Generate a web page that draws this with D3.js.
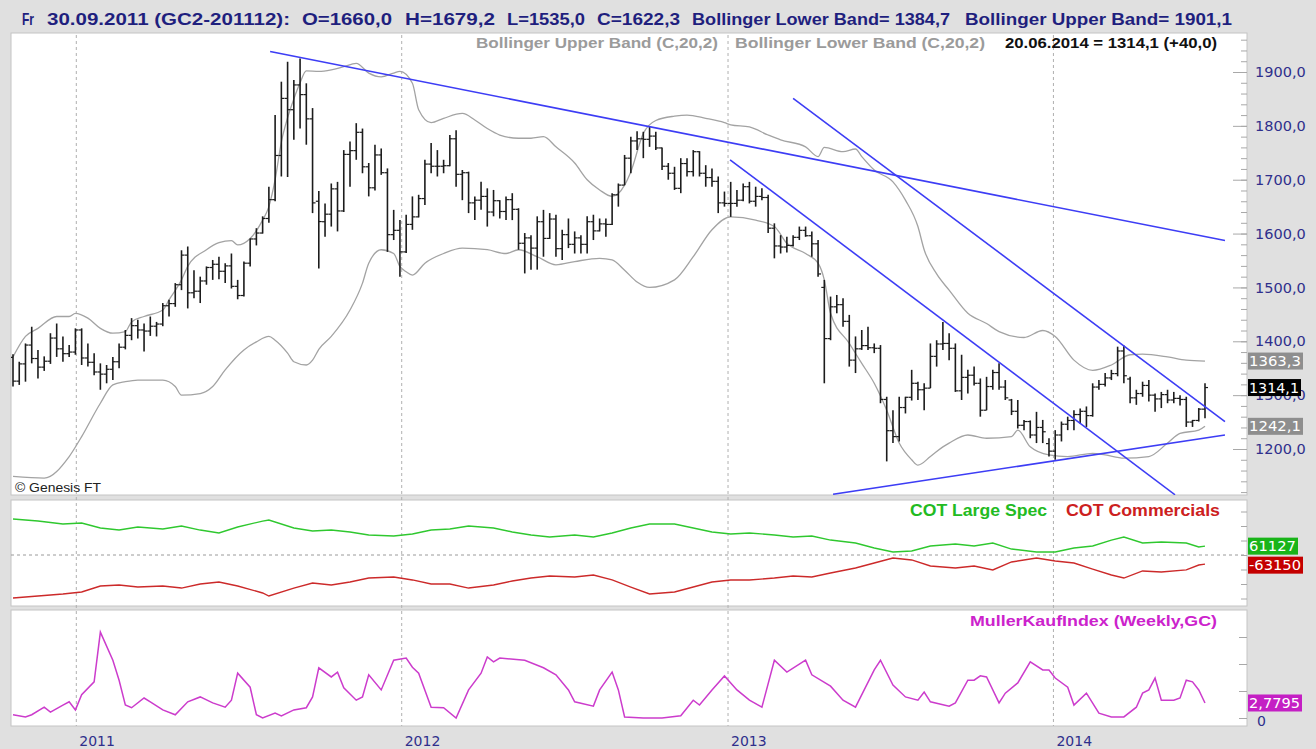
<!DOCTYPE html>
<html>
<head>
<meta charset="utf-8">
<script src="https://cdn.jsdelivr.net/npm/d3@7"></script>
<style>
  body { margin: 0; background: #e0e0e0; }
  svg { display: block; font-family: "DejaVu Sans", sans-serif; }
</style>
</head>
<body>
<svg id="chart" width="1316" height="749"></svg>
<script>
// weekly GC bars, first bar Fri 22.10.2010, last Fri 20.06.2014
var firstWeek = new Date(2010, 9, 22);
var lastWeek = new Date(2014, 5, 20);
var yearTicks = [2011, 2012, 2013, 2014];

var barOpen = [1370,1326,1358,1393,1368,1352,1363,1406,1386,1377,
  1380,1421,1369,1361,1343,1339,1348,1362,1389,1411,
  1429,1421,1419,1428,1432,1466,1470,1505,1560,1490,
  1493,1512,1537,1543,1530,1540,1502,1485,1545,1590,
  1601,1628,1663,1745,1851,1830,1876,1858,1813,1660,
  1622,1636,1683,1642,1747,1754,1788,1724,1685,1746,
  1713,1598,1606,1566,1617,1631,1665,1729,1725,1725,
  1726,1776,1710,1713,1657,1662,1669,1640,1661,1641,
  1663,1645,1582,1592,1573,1622,1591,1627,1572,1598,
  1580,1592,1580,1622,1605,1618,1617,1672,1690,1740,
  1772,1776,1775,1781,1759,1725,1712,1684,1730,1715,
  1752,1712,1704,1697,1657,1656,1656,1662,1687,1660,
  1669,1667,1610,1577,1575,1578,1593,1606,1596,1581,
  1500,1405,1464,1468,1437,1365,1386,1392,1388,1387,
  1292,1234,1223,1277,1296,1322,1310,1313,1372,1395,
  1396,1387,1308,1333,1337,1322,1272,1316,1342,1315,
  1291,1270,1244,1251,1226,1240,1210,1196,1226,1246,
  1253,1264,1270,1262,1315,1320,1332,1340,1382,1330,
  1295,1303,1318,1300,1293,1301,1291,1294,1292,1250,
  1253,1274];
var barHigh = [1376,1362,1396,1427,1384,1372,1415,1433,1409,1393,
  1424,1424,1396,1378,1359,1356,1371,1396,1421,1443,
  1440,1433,1446,1436,1471,1477,1508,1569,1576,1532,
  1520,1539,1551,1557,1545,1563,1514,1548,1591,1610,
  1632,1687,1820,1882,1919,1885,1925,1879,1833,1679.2,
  1656,1693,1696,1755,1771,1805,1795,1731,1765,1758,
  1721,1644,1625,1635,1669,1672,1737,1768,1755,1737,
  1783,1792,1718,1715,1669,1696,1684,1681,1662,1669,
  1675,1647,1601,1597,1632,1644,1638,1635,1607,1628,
  1604,1597,1632,1635,1628,1628,1675,1693,1746,1780,
  1790,1789,1799,1789,1760,1731,1724,1740,1740,1755,
  1753,1727,1721,1706,1678,1696,1681,1693,1696,1687,
  1684,1672,1619,1597,1594,1597,1613,1613,1604,1588,
  1514,1483,1486,1480,1449,1409,1421,1427,1396,1393,
  1297,1272,1297,1297,1347,1325,1322,1396,1402,1436,
  1415,1396,1375,1347,1353,1331,1334,1347,1359,1328,
  1293,1291,1254,1253,1269,1254,1220,1235,1251,1260,
  1272,1275,1279,1322,1328,1341,1347,1390,1392,1334,
  1310,1325,1328,1303,1306,1310,1306,1300,1297,1254,
  1276,1322];
var barLow = [1316,1319,1325,1359,1331,1345,1358,1371,1362,1371,
  1375,1356,1353,1337,1310,1322,1328,1350,1385,1402,
  1405,1381,1410,1409,1428,1446,1464,1495,1461,1480,
  1471,1505,1514,1515,1508,1498,1478,1483,1539,1578,
  1600,1620,1660,1706,1705,1774,1795,1765,1638,1535,
  1594,1613,1604,1640,1687,1737,1712,1669,1680,1709,
  1566,1588,1520,1564,1607,1630,1653,1712,1706,1712,
  1725,1687,1662,1638,1625,1644,1613,1632,1628,1625,
  1625,1570,1526,1533,1533,1557,1590,1557,1551,1573,
  1563,1563,1563,1588,1604,1594,1616,1650,1690,1712,
  1755,1740,1761,1755,1718,1700,1681,1675,1706,1706,
  1706,1687,1687,1638,1650,1631,1650,1660,1656,1650,
  1662,1601,1554,1563,1565,1576,1588,1594,1557,1520,
  1322,1402,1452,1427,1353,1341,1384,1384,1378,1285,
  1177,1211,1214,1266,1290,1291,1272,1313,1353,1384,
  1365,1306,1291,1303,1318,1260,1272,1310,1310,1291,
  1263,1238,1235,1220,1211,1211,1186,1180,1214,1235,
  1235,1247,1241,1260,1310,1316,1328,1335,1322,1285,
  1282,1297,1288,1269,1276,1285,1285,1281,1241,1241,
  1251,1257];
var barClose = [1326,1358,1393,1368,1352,1363,1406,1386,1377,1380,
  1421,1369,1361,1343,1339,1348,1362,1389,1411,1429,
  1421,1419,1428,1432,1466,1470,1505,1560,1490,1493,
  1512,1537,1543,1530,1540,1502,1485,1545,1590,1601,
  1628,1663,1745,1851,1830,1876,1858,1813,1657,1622.3,
  1636,1683,1642,1747,1754,1788,1724,1685,1746,1713,
  1598,1606,1566,1617,1631,1665,1729,1725,1725,1726,
  1776,1710,1713,1657,1662,1669,1640,1661,1641,1663,
  1645,1582,1592,1573,1622,1591,1627,1572,1598,1580,
  1592,1580,1622,1605,1618,1617,1672,1690,1740,1772,
  1776,1775,1781,1759,1725,1712,1684,1730,1715,1752,
  1712,1704,1697,1657,1656,1656,1662,1687,1660,1669,
  1667,1610,1577,1575,1578,1593,1606,1596,1581,1525,
  1405,1464,1468,1437,1365,1386,1392,1388,1387,1292,
  1234,1223,1277,1296,1322,1310,1313,1372,1395,1396,
  1387,1308,1333,1337,1322,1272,1316,1342,1315,1295,
  1270,1244,1251,1226,1240,1232,1196,1226,1246,1253,
  1264,1270,1262,1315,1320,1332,1340,1382,1336,1295,
  1303,1318,1300,1293,1301,1291,1294,1292,1250,1253,
  1274,1314.1];

// bollinger bands (C,20,2): [week index, value]
var upperBand = [[0,1371],[2,1409],[4,1424],[7,1446],[9,1446],[10,1452],[12,1443],[14,1424],
  [16,1415],[18,1418],[19,1436],[21,1446],[24,1458],[25,1477],[27,1514],[28,1539],[31,1570],
  [33,1583],[35,1587],[36,1579],[38,1591],[40,1625],[41,1650],[42,1700],[43,1770],[44,1815],
  [45,1850],[46,1880],[47,1902],[49,1901],[51,1904],[53,1910],[55,1916],[57,1898],[59,1891],
  [61,1898],[62,1901],[64,1879],[65,1830],[67,1806],[69,1814],[72,1823],[74,1811],[76,1795],
  [78,1783],[81,1777],[83,1777],[85,1780],[87,1761],[90,1731],[92,1700],[94,1681],[96,1669],
  [98,1690],[99,1715],[101,1786],[103,1810],[106,1818],[108,1820],[111,1814],[114,1806],
  [115,1802],[118,1798],[121,1783],[123,1774],[127,1761],[129,1743],[130,1760],[133,1752],
  [135,1757],[136,1743],[138,1718],[141,1696],[143,1662],[145,1613],[146,1570],[148,1525],
  [150,1495],[153,1452],[156,1433],[158,1418],[162,1407],[165,1420],[167,1409],[170,1365],
  [173,1346],[176,1356],[179,1375],[181,1376],[185,1371],[188,1365],[191,1363.3]];
var lowerBand = [[0,1149],[5,1146],[9,1186],[11,1223],[14,1285],[16,1319],[18,1325],[20,1328],
  [24,1328],[26,1316],[27,1300],[30,1303],[32,1316],[34,1347],[37,1384],[39,1399],[41,1409],
  [42,1402],[44,1378],[45,1362],[47,1356],[48,1365],[49,1385],[51,1409],[54,1458],[56,1508],
  [57,1545],[59,1570],[61,1563],[62,1539],[63,1529],[64,1523],[66,1545],[69,1563],[72,1573],
  [76,1570],[79,1563],[81,1570],[84,1557],[87,1542],[90,1548],[94,1554],[96,1551],[98,1532],
  [100,1510],[102,1500],[106,1514],[109,1557],[112,1607],[115,1631],[119,1625],[122,1613],
  [124,1582],[127,1563],[129,1545],[130,1514],[131,1452],[134,1396],[136,1359],[138,1322],
  [140,1272],[142,1211],[144,1180],[145,1170],[147,1186],[149,1204],[150,1211],[153,1226],
  [156,1220],[160,1223],[161,1235],[163,1204],[166,1189],[169,1186],[173,1192],[175,1189],
  [178,1183],[182,1186],[185,1211],[187,1229],[190,1235],[191,1242.1]];

// hand drawn trend lines: [week0, price0, week1, price1]
var trendLines = [[41.2,1938,194.2,1587],[125,1851,194.2,1251],[114.9,1737,186.2,1115],[131.4,1116,194.2,1226]];

var priceTicks = [1200, 1300, 1400, 1500, 1600, 1700, 1800, 1900];

// COT net positions, thousands of contracts
var cotWeeks = [0,4,8,11,14,17,20,24,27,30,33,36,40,41,45,48,51,54,57,61,64,67,70,73,77,80,83,86,90,93,
  96,99,102,106,109,112,115,118,122,125,128,131,135,138,141,144,147,151,154,157,160,164,167,170,173,
  176,178,181,184,188,190,191];
var cotSpec = [248,234,214,221,186,172,193,179,200,172,152,193,234,241,186,166,172,159,138,131,
  145,172,179,200,186,159,138,124,138,124,152,186,214,214,186,159,145,152,138,124,
  131,103,83,48,21,28,62,76,62,83,41,21,21,48,62,103,124,83,90,83,55,61.127];
var cotComm = [-297,-283,-269,-255,-214,-207,-221,-214,-228,-200,-186,-214,-262,-283,-228,-193,-207,-186,-159,-152,
  -172,-200,-200,-228,-207,-179,-159,-145,-152,-138,-172,-221,-269,-255,-221,-186,-172,-172,-159,-145,
  -152,-124,-90,-55,-21,-34,-76,-90,-76,-103,-48,-21,-41,-55,-97,-138,-159,-110,-117,-103,-69,-63.15];

// Muller Kauf Index (weekly, GC)
var mkiWeeks = [0,2,3,5,6,8,9,10,11,13,14,16,17,18,19,21,22,24,26,28,30,32,34,35,36,38,39,40,42,43,
  45,47,48,49,51,52,53,55,56,57,59,61,63,64,65,67,69,71,73,75,76,77,78,82,85,87,89,90,93,94,
  96,97,98,101,104,107,109,110,112,114,116,118,120,122,124,127,128,131,133,135,138,139,141,143,145,146,
  147,150,151,153,154,155,156,158,159,161,163,165,166,167,169,170,172,174,176,178,180,181,182,183,
  184,186,187,188,189,190,191];
var mkiValues = [0.6,0.2,0.6,2.0,1.1,2.4,3.0,1.5,4.3,6.7,15.9,10.7,7.0,2.4,1.9,3.7,3.0,1.5,0.6,3.0,
  3.9,2.8,2.0,3.3,8.3,5.7,0.6,0.0,0.9,0.4,1.5,1.9,3.9,9.3,7.6,8.5,5.6,3.3,3.9,8.0,
  5.2,10.7,11.1,9.4,8.3,2.0,1.9,0.0,5.2,8.3,11.3,10.4,11.1,10.7,9.3,8.0,5.2,3.0,2.2,5.2,
  8.5,5.2,0.2,0,0,0.4,3.3,2.4,5.2,7.8,5.2,3.3,2.0,10.7,8.5,10.7,8.0,5.9,3.3,2.0,
  8.9,10.7,6.1,3.9,3.3,4.8,3.0,2.2,2.8,7.0,7.0,7.8,7.6,2.8,4.6,6.5,10.4,8.9,8.9,7.4,
  5.7,2.4,4.6,0.9,0.2,0.2,2.0,4.6,5.2,7.4,3.3,3.3,3.7,7.0,6.7,5.2,2.7795];

var svg = d3.select("#chart");
var plotL = 11, plotR = 1247;
var mainTop = 33, mainBot = 495, cotTop = 500, cotBot = 606, mkiTop = 610, mkiBot = 726;

var xi = d3.scaleLinear().domain([0, barClose.length - 1]).range([13, 1205]);
var xt = d3.scaleTime().domain([firstWeek, lastWeek]).range([13, 1205]);
var yP = d3.scaleLinear().domain([1200, 1900]).range([449, 72]);
var yC = d3.scaleLinear().domain([-300, 300]).range([598.5, 511.5]);
var yM = d3.scaleLinear().domain([0, 15]).range([718, 637]);

var navy = "#2f2f8c";

init();

function init() {
  drawFrame();
  drawMain();
  drawCot();
  drawMki();
  drawTexts();
}

function drawFrame() {
  svg.append("rect").attr("width", 1316).attr("height", 749).attr("fill", "#e0e0e0");
  [[mainTop, mainBot], [cotTop, cotBot], [mkiTop, mkiBot]].forEach(function (p, k) {
    svg.append("rect")
      .attr("x", plotL).attr("y", p[0])
      .attr("width", plotR - plotL).attr("height", p[1] - p[0])
      .attr("fill", "#fff").attr("stroke", "#c4c4c4");
    svg.append("clipPath").attr("id", "clip" + k)
      .append("rect").attr("x", plotL).attr("y", p[0])
      .attr("width", plotR - plotL).attr("height", p[1] - p[0]);
  });

  // year grid
  svg.append("g").selectAll("line").data(yearTicks).join("line")
    .attr("x1", function (d) { return xt(new Date(d, 0, 1)); })
    .attr("x2", function (d) { return xt(new Date(d, 0, 1)); })
    .attr("y1", mainTop + 2).attr("y2", mkiBot)
    .attr("stroke", "#b0b0b0").attr("stroke-dasharray", "3,3");

  svg.append("g").selectAll("text").data(yearTicks).join("text")
    .attr("x", function (d) { return xt(new Date(d, 0, 1)) + 3; })
    .attr("y", 746)
    .attr("font-size", 14).attr("fill", navy)
    .text(function (d) { return d; });
}

function drawMain() {
  var g = svg.append("g").attr("clip-path", "url(#clip0)");

  var band = d3.line()
    .x(function (d) { return xi(d[0]); })
    .y(function (d) { return yP(d[1]); })
    .curve(d3.curveMonotoneX);
  [upperBand, lowerBand].forEach(function (b) {
    g.append("path").attr("d", band(b))
      .attr("fill", "none").attr("stroke", "#a3a3a3").attr("stroke-width", 1.3);
  });

  var idx = d3.range(barClose.length);
  var bars = g.append("g").attr("stroke", "#1c1c1c").attr("stroke-width", 1.6);
  bars.selectAll(".hl").data(idx).join("line")
    .attr("x1", function (i) { return xi(i); }).attr("x2", function (i) { return xi(i); })
    .attr("y1", function (i) { return yP(barHigh[i]); })
    .attr("y2", function (i) { return yP(barLow[i]); });
  bars.selectAll(".op").data(idx).join("line")
    .attr("x1", function (i) { return xi(i) - 3; }).attr("x2", function (i) { return xi(i); })
    .attr("y1", function (i) { return yP(barOpen[i]); })
    .attr("y2", function (i) { return yP(barOpen[i]); })
    .attr("stroke-width", 1.2);
  bars.selectAll(".cl").data(idx).join("line")
    .attr("x1", function (i) { return xi(i); }).attr("x2", function (i) { return xi(i) + 3; })
    .attr("y1", function (i) { return yP(barClose[i]); })
    .attr("y2", function (i) { return yP(barClose[i]); })
    .attr("stroke-width", 1.2);

  g.append("g").selectAll("line").data(trendLines).join("line")
    .attr("x1", function (d) { return xi(d[0]); })
    .attr("y1", function (d) { return yP(d[1]); })
    .attr("x2", function (d) { return xi(d[2]); })
    .attr("y2", function (d) { return yP(d[3]); })
    .attr("stroke", "#3d3df5").attr("stroke-width", 1.6);

  // right axis: ticks inside, labels outside
  var minor = d3.range(1120, 1980, 20);
  svg.append("g").attr("transform", "translate(" + plotR + ",0)")
    .call(d3.axisLeft(yP).tickValues(minor).tickSize(6).tickFormat(""))
    .call(function (a) {
      a.select(".domain").remove();
      a.selectAll("line").attr("stroke", "#a8a8a8");
    });
  svg.append("g").attr("transform", "translate(" + plotR + ",0)")
    .call(d3.axisLeft(yP).tickValues(priceTicks).tickSize(14).tickFormat(""))
    .call(function (a) {
      a.select(".domain").remove();
      a.selectAll("line").attr("stroke", "#a8a8a8");
    });
  svg.append("g").attr("transform", "translate(" + plotR + ",0)")
    .call(d3.axisRight(yP).tickValues(priceTicks).tickSize(0).tickPadding(8)
      .tickFormat(function (d) { return d3.format(".1f")(d).replace(".", ","); }))
    .call(function (a) {
      a.select(".domain").remove();
      a.selectAll("text").attr("font-size", 14.5).attr("fill", navy)
        .attr("font-family", "DejaVu Sans");
    });

  valueBox(yP(1363.3), "#8e8e8e", "1363,3", 55);
  valueBox(yP(1242.1), "#8e8e8e", "1242,1", 55);
  valueBox(yP(1314.1), "#000", "1314,1", 53);
}

function drawCot() {
  var g = svg.append("g").attr("clip-path", "url(#clip1)");
  g.append("line")
    .attr("x1", plotL).attr("x2", plotR)
    .attr("y1", yC(0)).attr("y2", yC(0))
    .attr("stroke", "#9a9a9a").attr("stroke-dasharray", "3,3");

  var line = d3.line()
    .x(function (d) { return xi(d[0]); })
    .y(function (d) { return yC(d[1]); });
  g.append("path").attr("d", line(d3.zip(cotWeeks, cotSpec)))
    .attr("fill", "none").attr("stroke", "#2fc82f").attr("stroke-width", 1.4);
  g.append("path").attr("d", line(d3.zip(cotWeeks, cotComm)))
    .attr("fill", "none").attr("stroke", "#cc2a2a").attr("stroke-width", 1.4);

  svg.append("g").attr("transform", "translate(" + plotR + ",0)")
    .call(d3.axisLeft(yC).tickValues([-300, -200, -100, 0, 100, 200, 300]).tickSize(6).tickFormat(""))
    .call(function (a) {
      a.select(".domain").remove();
      a.selectAll("line").attr("stroke", "#a8a8a8");
    });

  valueBox(yC(61.127), "#19b419", "61127", 50);
  valueBox(yC(-63.15) + 1, "#c40000", "-63150", 55);
}

function drawMki() {
  var g = svg.append("g").attr("clip-path", "url(#clip2)");
  var line = d3.line()
    .x(function (d) { return xi(d[0]); })
    .y(function (d) { return yM(d[1]); });
  g.append("path").attr("d", line(d3.zip(mkiWeeks, mkiValues)))
    .attr("fill", "none").attr("stroke", "#cc3ccc").attr("stroke-width", 1.5);

  svg.append("g").attr("transform", "translate(" + plotR + ",0)")
    .call(d3.axisLeft(yM).tickValues([0, 5, 10, 15]).tickSize(8).tickFormat(""))
    .call(function (a) {
      a.select(".domain").remove();
      a.selectAll("line").attr("stroke", "#a8a8a8");
    });

  valueBox(yM(2.7795), "#c41fc4", "2,7795", 54);
  svg.append("text").attr("x", 1257).attr("y", 726)
    .attr("font-size", 14).attr("fill", navy).text("0");
}

function valueBox(cy, fill, txt, w) {
  svg.append("rect").attr("x", plotR + 1).attr("y", cy - 8.5)
    .attr("width", w).attr("height", 17).attr("fill", fill);
  svg.append("text").attr("x", plotR + 2).attr("y", cy + 5)
    .attr("font-size", 13.5).attr("fill", "#fff")
    .attr("textLength", w - 3).attr("lengthAdjust", "spacingAndGlyphs")
    .text(txt);
}

function label(x, y, txt, w, size, color, bold) {
  svg.append("text").attr("x", x).attr("y", y)
    .attr("font-family", "'Liberation Sans Narrow', 'Liberation Sans', Arial, sans-serif")
    .attr("font-size", size).attr("font-weight", bold ? "bold" : "normal")
    .attr("fill", color)
    .attr("textLength", w).attr("lengthAdjust", "spacingAndGlyphs")
    .text(txt);
}

function drawTexts() {
  var hc = "#1f1f7e";
  label(22, 25, "Fr", 12, 17, hc, true);
  label(47, 25, "30.09.2011 (GC2-201112):", 243, 17, hc, true);
  label(302, 25, "O=1660,0", 90, 17, hc, true);
  label(405, 25, "H=1679,2", 90, 17, hc, true);
  label(507, 25, "L=1535,0", 78, 17, hc, true);
  label(597, 25, "C=1622,3", 83, 17, hc, true);
  label(692, 25, "Bollinger Lower Band= 1384,7", 258, 17, hc, true);
  label(965, 25, "Bollinger Upper Band= 1901,1", 267, 17, hc, true);

  label(476, 48, "Bollinger Upper Band (C,20,2)", 242, 14, "#9b9b9b", true);
  label(735, 48, "Bollinger Lower Band (C,20,2)", 250, 14, "#9b9b9b", true);
  label(1005, 48, "20.06.2014 = 1314,1 (+40,0)", 212, 14, "#111", true);

  label(15, 492, "\u00a9 Genesis FT", 86, 13, "#222", false);

  label(910, 516, "COT Large Spec", 137, 16, "#22bb22", true);
  label(1066, 516, "COT Commercials", 154, 16, "#cc2020", true);
  label(970, 626, "MullerKaufIndex (Weekly,GC)", 247, 15, "#cc22cc", true);
}
</script>
</body>
</html>
